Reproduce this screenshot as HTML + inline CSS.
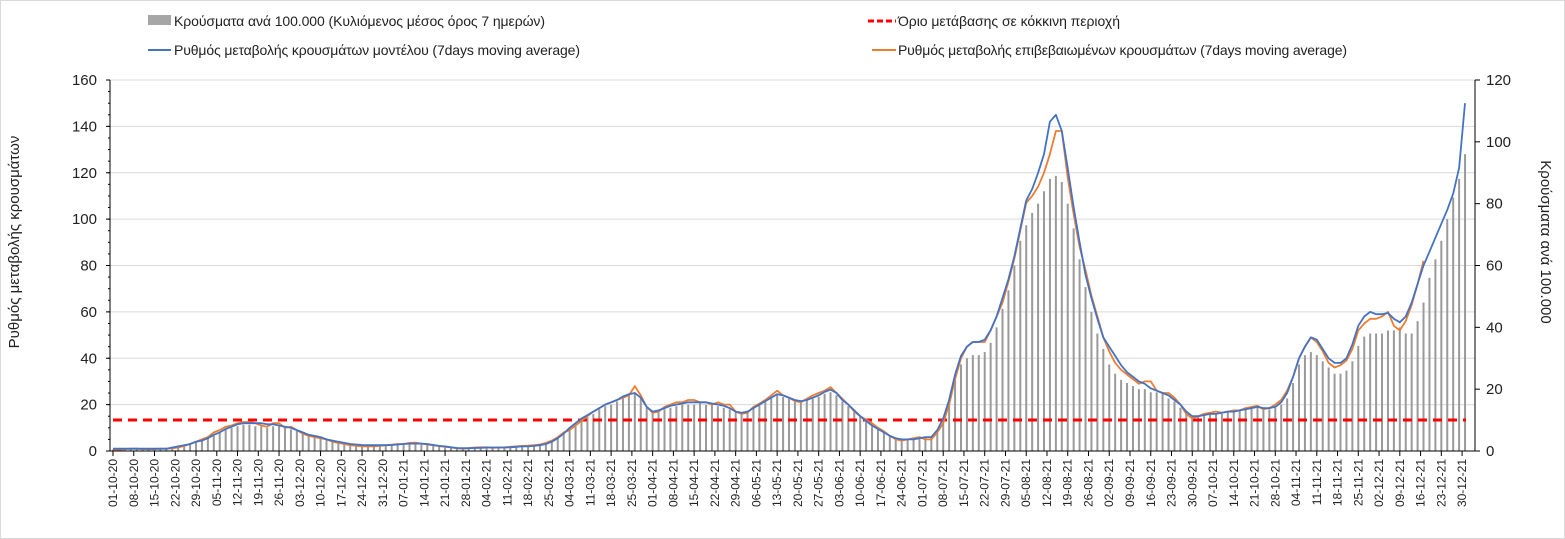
<!DOCTYPE html>
<html><head><meta charset="utf-8"><style>
html,body{margin:0;padding:0;background:#fff;}
svg{display:block;font-family:"Liberation Sans Narrow","Liberation Sans",sans-serif;}
</style></head><body>
<svg id="chart" width="1565" height="539" viewBox="0 0 1565 539" xmlns="http://www.w3.org/2000/svg">
<rect x="0.5" y="0.5" width="1564" height="538" fill="#fff" stroke="#d9d9d9"/>
<g id="grid"></g>
<g id="bars"></g>
<line x1="113" x2="1466" y1="420" y2="420" stroke="#ff0000" stroke-width="3" stroke-dasharray="9,6"/>
<g id="lines"></g>
<g id="axes"></g>
<g font-size="14" fill="#222">
<rect x="148" y="15" width="23" height="10" fill="#a6a6a6"/>
<text x="174" y="26" textLength="371">Κρούσματα ανά 100.000 (Κυλιόμενος μέσος όρος 7 ημερών)</text>
<line x1="868" x2="896" y1="21" y2="21" stroke="#ff0000" stroke-width="3" stroke-dasharray="6,3"/>
<text x="898" y="26" textLength="222">Όριο μετάβασης σε κόκκινη περιοχή</text>
<line x1="148" x2="171" y1="50" y2="50" stroke="#4472c4" stroke-width="2"/>
<text x="174" y="55" textLength="406">Ρυθμός μεταβολής κρουσμάτων μοντέλου (7days moving average)</text>
<line x1="872" x2="896" y1="50" y2="50" stroke="#ed7d31" stroke-width="2"/>
<text x="898" y="55" textLength="449">Ρυθμός μεταβολής επιβεβαιωμένων κρουσμάτων (7days moving average)</text>
</g>
<text transform="translate(19,242) rotate(-90)" text-anchor="middle" font-size="15" fill="#222">Ρυθμός μεταβολής κρουσμάτων</text>
<text transform="translate(1541,242) rotate(90)" text-anchor="middle" font-size="15" fill="#222">Κρούσματα ανά 100.000</text>
</svg>
<script>
// day step between points = 2 days, starting 01-10-2020
const stepDays = 2;
const leftTicks = [0,20,40,60,80,100,120,140,160];
const rightTicks = [0,20,40,60,80,100,120];
const modelRate = [
1,1,1,1,1,1,1,
1,1,1,1.5,2,2.5,3,
4,4.5,5.5,7,8,9.5,10.5,
11.5,12,12,12,12,11.5,11.5,
11,10.5,10,9,8,7,6.5,
6,5,4.5,4,3.5,3,2.8,
2.6,2.5,2.5,2.5,2.5,2.6,2.8,
3,3.2,3.2,3.2,3,2.6,2.2,
2,1.6,1.3,1.2,1.2,1.3,1.4,
1.5,1.5,1.5,1.5,1.6,1.8,2,
2,2.2,2.5,3,4,5.5,7.5,
10,12,14,15.5,17,18.5,20,
21,22,23.5,24.5,25,23,19,
17,17.5,18.5,19.5,20,20.5,21,
21,21,21,20.5,20,19.5,18.5,
17,16.5,17,18.5,20,21.5,23,
24.5,24,23,22,21.5,22,23,
24,25.5,26.5,25,22,20,17.5,
15,13,11,9.5,8,6.5,5.5,
5,5,5,5.5,6,6,9,
14,22,33,41,45,47,47,
48,52,58,66,74,84,96,
108,113,120,128,142,145,138,
122,105,90,76,66,57,49,
45,41,37,34,32,30,29,
27,26,25,24,22,20,17,
15,15,15.5,16,16,16.5,17,
17,17.5,18,18.5,19,18.5,18.5,
19,21,25,32,40,45,49,
48,44,40,38,38,40,46,
54,58,60,59,59,59.5,57,
55.5,58,64,72,80,86,92,
98,104,111,122,150];
const confirmedRate = [
0.5,0.5,0.8,1,1,0.8,0.8,
0.8,1,1,1.2,1.5,2.2,3,
4,5,6,8,9,10.5,11,
12,12.5,12.5,12,11,10.5,12,
12,10,10.5,9,7.5,6.5,6,
5.5,5,4,3.5,3,2.5,2.2,
2,2,2,2.2,2.5,2.7,3,
3,3.5,3.6,3.2,2.8,2.5,2.1,
1.8,1.6,1.2,1,1.2,1.5,1.6,
1.6,1.4,1.5,1.6,1.8,2,2.2,
2.3,2.5,2.8,3.5,4.5,6,8,
9,11,13,15,17,18.5,20,
21,22,23,24,28,24,19,
16.5,17,19,20,21,21,22,
22,21,21,20,21,20,20,
17,16,16.5,19,20.5,22,24,
26,24,23,21.5,21,22.5,24,
25,26,27.5,25,22.5,20,17,
15,13.5,12,10,8.5,6.5,5,
4.5,5,5.5,6,5,5,8,
12,20,31,40,45,47,47,
47,52,58,64,73,83,95,
107,110,114,120,128,138,138,
118,102,88,78,67,58,49,
43,38,35,33,31,29,30,
30,26,25,25,23,20,16,
14,15,16,16.5,17,16.5,17,
17.5,17.5,18.5,19,19.5,18,18.5,
20,22,26,32,40,45,49,
47,43,38,36,37,39,44,
52,55,57,57,58,60,54,
52,56,63,72,82];
const casesPer100k = [
0.5,0.5,0.5,0.5,0.5,0.5,0.6,
0.6,0.6,0.7,1,1.3,1.7,2.2,
3,3.5,4,5,6,7,7.5,
8,8.5,8.5,8,8,7.5,8,
8,7.5,7,6.5,6,5,4.5,
4,3.5,3,2.8,2.5,2.2,2,
1.8,1.8,1.8,1.8,1.8,2,2.1,
2.2,2.3,2.3,2.2,2,1.8,1.5,
1.3,1.1,0.9,0.8,0.8,0.9,1,
1,1.1,1.1,1.1,1.2,1.3,1.4,
1.5,1.6,1.8,2.2,3,4,5.5,
7,8.5,10,11,12,13.5,14.5,
15,16,17,18,18.5,17,14,
12.5,12.5,13.5,14,14.5,15,15,
15,15.5,15,15,14.5,14,13.5,
12.5,12.5,13,14,15,16,17,
18,17.5,17,16.5,16,16.5,17,
17.5,18.5,19,18,16,14.5,13,
11,9.5,8,7,6,5,4,
3.8,3.8,3.8,4,4.5,4.5,6,
10,16,23,28,30,31,31,
32,35,40,46,52,60,68,
73,77,80,84,88,89,87,
80,72,62,53,45,38,33,
28,25,23,22,21,20,20,
19,19,18.5,17,16,14,12,
11,11,11.5,12,12,12,12.5,
12.5,13,13.5,14,14,13.5,13.5,
14,15,17,22,28,31,32,
31,29,27,25,25,26,29,
34,37,38,38,38,39,39,
40,38,38,42,48,56,62,
68,75,82,88,96];

const NS = "http://www.w3.org/2000/svg";
const X0 = 113, PXDAY = 2.965, Y0 = 451, YTOP = 80;
const xDay = d => X0 + d * PXDAY;
const yLeft = v => Y0 - v / 160 * (Y0 - YTOP);
const yRight = v => Y0 - v / 120 * (Y0 - YTOP);
function mk(tag, attrs, parent) {
  const e = document.createElementNS(NS, tag);
  for (const k in attrs) e.setAttribute(k, attrs[k]);
  parent.appendChild(e);
  return e;
}
const grid = document.getElementById('grid');
const axes = document.getElementById('axes');
leftTicks.forEach(t => {
  const y = yLeft(t);
  if (t > 0) {
    const g = mk('line', {x1: 110, x2: 1475, y1: y, y2: y, stroke: '#d9d9d9', 'stroke-width': 1}, grid);
    
    
  }
  const tl = mk('text', {x: 97, y: y + 5, 'text-anchor': 'end', 'font-size': 15, fill: '#222'}, axes);
  tl.textContent = t;
  
  
  mk('line', {x1: 106, x2: 110, y1: y, y2: y, stroke: '#000'}, axes);
});
for (let v = 0; v <= 160; v += 5) { const y = yLeft(v); mk('line', {x1: 108, x2: 110, y1: y, y2: y, stroke: '#000'}, axes); }
rightTicks.forEach(t => {
  const y = yRight(t);
  const tl = mk('text', {x: 1486, y: y + 5, 'font-size': 15, fill: '#222'}, axes);
  tl.textContent = t;
  
  
  mk('line', {x1: 1475, x2: 1480, y1: y, y2: y, stroke: '#000'}, axes);
});
mk('line', {x1: 110, x2: 110, y1: YTOP, y2: Y0, stroke: '#000'}, axes);
mk('line', {x1: 1475, x2: 1475, y1: YTOP, y2: Y0, stroke: '#000'}, axes);
mk('line', {x1: 110, x2: 1475, y1: Y0, y2: Y0, stroke: '#000'}, axes);
// weekly date ticks
const start = new Date(Date.UTC(2020, 9, 1));
for (let d = 0; d <= 455; d += 7) {
  const x = xDay(d);
  mk('line', {x1: x, x2: x, y1: Y0, y2: Y0 + 5, stroke: '#000'}, axes);
  const dt = new Date(start.getTime() + d * 86400000);
  const s = String(dt.getUTCDate()).padStart(2, '0') + '-' + String(dt.getUTCMonth() + 1).padStart(2, '0') + '-' + String(dt.getUTCFullYear()).slice(2);
  const tl = mk('text', {transform: `translate(${x + 4},${Y0 + 8}) rotate(-90)`, 'text-anchor': 'end', 'font-size': 12, fill: '#222'}, axes);
  tl.textContent = s;
  
  
}
const bars = document.getElementById('bars');
casesPer100k.forEach((v, i) => {
  const x = xDay(i * stepDays);
  const r = mk('rect', {x: x - 1, y: yRight(v), width: 2, height: Y0 - yRight(v), fill: '#9a9a9a'}, bars);
  
  
});
const lines = document.getElementById('lines');
function path(arr, color, name) {
  const d = arr.map((v, i) => (i ? 'L' : 'M') + xDay(i * stepDays).toFixed(1) + ',' + yLeft(v).toFixed(1)).join('');
  const p = mk('path', {d: d, fill: 'none', stroke: color, 'stroke-width': 1.8, 'stroke-linejoin': 'round'}, lines);
  
  
}
path(confirmedRate, '#ed7d31', 'confirmed-rate-line');
path(modelRate, '#4472c4', 'model-rate-line');
</script>
</body></html>
